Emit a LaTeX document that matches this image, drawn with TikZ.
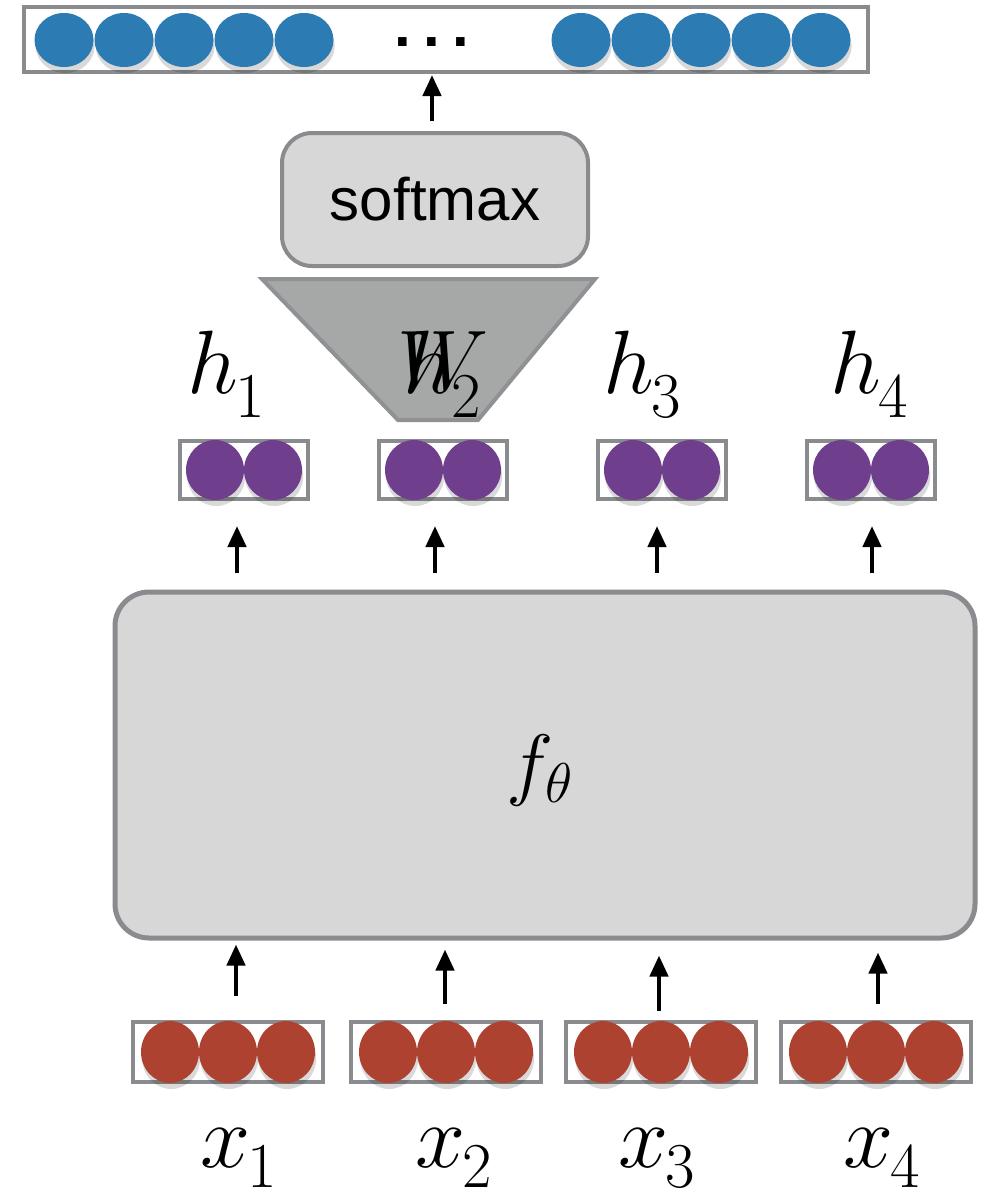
\RequirePackage{fix-cm}
\documentclass[tikz,border=0pt]{standalone}
\usepackage{fontspec}
\newfontfamily\sansf{Liberation Sans}
\usetikzlibrary{arrows.meta,shapes.geometric,shadows}
\definecolor{edgegray}{HTML}{898B8E}
\definecolor{boxfill}{HTML}{D7D7D7}
\definecolor{trapfill}{HTML}{A6A8A8}
\definecolor{trapedge}{HTML}{8F9194}
\definecolor{dotblue}{HTML}{2D7BB3}
\definecolor{dotpurple}{HTML}{6F3F8E}
\definecolor{dotred}{HTML}{AE4231}
\newcommand{\mylab}[3]{{\fontsize{45}{48}\selectfont$#1$}\kern-1.5pt\raisebox{#3}{\fontsize{32}{34}\selectfont$#2$}}
\begin{document}
\begin{tikzpicture}[x=0.5pt,y=-0.5pt,
  vecbox/.style={draw=edgegray, line width=2pt, fill=white, rectangle, inner sep=0pt},
  dotshadow/.style={drop shadow={shadow xshift=0.6pt, shadow yshift=-3pt, opacity=0.15, fill=black}},
  bluedot/.style={ellipse, fill=dotblue, draw=none, minimum width=29.5pt, minimum height=27pt, inner sep=0pt, dotshadow},
  purpledot/.style={ellipse, fill=dotpurple, draw=none, minimum width=29pt, minimum height=30pt, inner sep=0pt, dotshadow},
  reddot/.style={ellipse, fill=dotred, draw=none, minimum width=29pt, minimum height=31pt, inner sep=0pt, dotshadow},
  roundbox/.style={draw=edgegray, fill=boxfill, line width=2pt, rectangle, inner sep=0pt},
  lab/.style={inner sep=0pt, anchor=base west},
  arr/.style={line width=2.2pt, -{Triangle[length=10.5pt,width=9pt]}}]
\useasboundingbox (0,0) rectangle (995,1195);

% output vector
\node[vecbox, minimum width=422pt, minimum height=32.5pt] (out) at (446,39.5) {};
\foreach \i/\x in {1/64,2/124,3/184,4/244,5/304,6/581,7/641,8/701,9/761,10/821}
  \node[bluedot] (o\i) at (\x,40) {};
\node[inner sep=0pt, anchor=base, font=\sansf\bfseries\fontsize{30}{30}\selectfont] (dots) at (432,46) {.\hspace{6.2pt}.\hspace{6.2pt}.};

% softmax
\node[roundbox, minimum width=153pt, minimum height=66.5pt, rounded corners=15pt,
      font=\sansf\fontsize{30}{32}\selectfont] (sm) at (435,199.5) {softmax};
\draw[arr, shorten <=5pt, shorten >=0.5pt] (sm.north -| 432,0) -- (out.south -| 432,0);

% W projection
\filldraw[fill=trapfill, draw=trapedge, line width=2pt] (262,279) -- (595,279) -- (478,420) -- (398,420) -- cycle;
\node[lab] (W) at (397,390) {\fontsize{43}{46}\selectfont$W$};

% hidden states
\node[lab] (l1) at (187,393) {\mylab{h}{1}{-12pt}};
\node[lab] (l2) at (403,393) {\mylab{h}{2}{-12pt}};
\node[lab] (l3) at (603,393) {\mylab{h}{3}{-12pt}};
\node[lab] (l4) at (830,393) {\mylab{h}{4}{-12pt}};

\foreach \i/\x in {1/244,2/443,3/662,4/871}{
  \node[vecbox, minimum width=64pt, minimum height=29pt] (h\i) at (\x,470) {};
  \node[purpledot] (h\i a) at (\x-29,470) {};
  \node[purpledot] (h\i b) at (\x+29,470) {};
}

% encoder
\node[roundbox, minimum width=430pt, minimum height=173pt, rounded corners=17pt, line width=2.5pt] (f) at (545,765) {};
\node[inner sep=0pt] (fl) at (540,770) {\fontsize{40}{44}\selectfont$f_\theta$};

\foreach \i/\s in {1/-3.5pt,2/-4pt,3/-2.5pt,4/0.5pt}
  \draw[arr, shorten <=8.5pt, shorten >=12.5pt] ([xshift=\s]f.north -| h\i.south) -- ([xshift=\s]h\i.south);

% inputs
\foreach \i/\x in {1/228,2/446,3/661,4/876}{
  \node[vecbox, minimum width=95pt, minimum height=30pt] (x\i) at (\x,1052) {};
  \node[reddot] (x\i a) at (\x-58,1052) {};
  \node[reddot] (x\i b) at (\x,1052) {};
  \node[reddot] (x\i c) at (\x+58,1052) {};
}
\draw[arr, shorten <=12pt, shorten >=2pt] ([xshift=4pt]x1.north) -- ([xshift=4pt]x1.north |- f.south);
\draw[arr, shorten <=8pt, shorten >=4.5pt] ([xshift=-0.5pt]x2.north) -- ([xshift=-0.5pt]x2.north |- f.south);
\draw[arr, shorten <=4.5pt, shorten >=7.5pt] ([xshift=-1pt]x3.north) -- ([xshift=-1pt]x3.north |- f.south);
\draw[arr, shorten <=8pt, shorten >=6pt] ([xshift=1pt]x4.north) -- ([xshift=1pt]x4.north |- f.south);

\node[lab] (xl1) at (200,1167) {\mylab{x}{1}{-10pt}};
\node[lab] (xl2) at (415,1167) {\mylab{x}{2}{-10pt}};
\node[lab] (xl3) at (618,1167) {\mylab{x}{3}{-10pt}};
\node[lab] (xl4) at (843,1167) {\mylab{x}{4}{-10pt}};
\end{tikzpicture}
\end{document}
